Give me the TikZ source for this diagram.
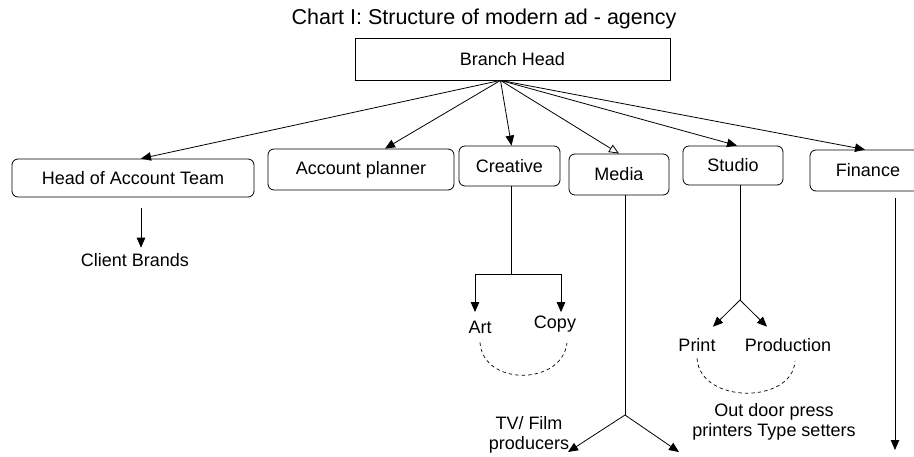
\documentclass[tikz,border=0pt]{standalone}
\usepackage{fontspec}
\setmainfont{Liberation Sans}
\usetikzlibrary{arrows.meta}
\newcommand\labfont{\fontsize{18}{20}\selectfont}
\newcommand\chartfont{\fontsize{21.5}{24}\selectfont}
\begin{document}
  \begin{tikzpicture}[x=1pt,y=-1pt,
      deptbox/.style={draw,rounded corners=6pt,line width=0.8pt,font=\labfont,inner sep=0pt},
      headbox/.style={draw,line width=0.8pt,font=\labfont,inner sep=0pt},
      lbl/.style={font=\labfont,inner sep=1pt,align=center},
      arr/.style={line width=0.8pt,-{Triangle[length=10pt,width=8.5pt]}},
      oarr/.style={line width=0.8pt,-{Triangle[open,length=10pt,width=8.5pt]}},
      link/.style={line width=0.8pt},
      ring/.style={line width=0.7pt,dash pattern=on 3.5pt off 3pt}]
    \useasboundingbox (0,0) rectangle (914,457);
    \clip (0,0) rectangle (914,457);
    \node[font=\chartfont,anchor=base] (T) at (484,25) {Chart I: Structure of modern ad - agency};
    \node[headbox,minimum width=315,minimum height=42] (BH) at (512.5,59) {Branch Head};
    \node[deptbox,minimum width=242,minimum height=38] (HA) at (133,178) {Head of Account Team};
    \node[deptbox,minimum width=186,minimum height=41] (AP) at (361,169.5) {Account planner};
    \node[deptbox,minimum width=101,minimum height=40] (CR) at (509.5,166) {Creative};
    \node[deptbox,minimum width=100,minimum height=41] (ME) at (619,174.5) {Media};
    \node[deptbox,minimum width=100,minimum height=39] (ST) at (733,165.5) {Studio};
    \node[deptbox,minimum width=116,minimum height=41] (FI) at (868,170.5) {Finance};
    \coordinate (B0) at ([xshift=-12]BH.south);
    \foreach \n/\dx in {HA/8,AP/24,CR/2,ST/4,FI/-3}{
      \draw[arr] (B0) -- ([xshift=\dx]\n.north);
    }
    \draw[oarr] (B0) -- (ME.north);
    \node[lbl] (CB) at (135,260.5) {Client Brands};
    \draw[arr] ([xshift=8,yshift=-11]HA.south) -- ([xshift=6,yshift=5]CB.north);
    \coordinate (C0) at (511,274);
    \node[lbl] (AR) at (480,327) {Art};
    \node[lbl] (CO) at (555,324.5) {Copy};
    \draw[link] (C0 |- CR.south) -- (C0);
    \draw[arr] (C0) -| ([xshift=-5,yshift=7.5]AR.north);
    \draw[arr] (C0) -| ([xshift=6,yshift=3]CO.north);
    \draw[ring] ([yshift=-8]AR.south) .. controls +(3,44) and +(-5,43) .. ([xshift=12,yshift=-9]CO.south);
    \coordinate (M0) at (625,415);
    \coordinate (M1) at (568,452);
    \coordinate (M2) at (679,452);
    \draw[link] (M0 |- ME.south) -- (M0);
    \foreach \p in {M1,M2}{
      \draw[arr] (M0) -- (\p);
    }
    \node[lbl] (TV) at (529,434.5) {TV/ Film\\producers};
    \coordinate (S0) at (740,300);
    \node[lbl] (PR) at (697,345.5) {Print};
    \node[lbl] (PD) at (788,345.5) {Production};
    \draw[link] (S0 |- ST.south) -- (S0);
    \draw[arr] (S0) -- ([xshift=16,yshift=11]PR.north);
    \draw[arr] (S0) -- ([xshift=-21,yshift=11]PD.north);
    \draw[ring] ([yshift=-5]PR.south) .. controls +(3,46) and +(-3,43) .. ([xshift=7,yshift=-8]PD.south);
    \node[lbl] (OD) at (774,421.5) {Out door press\\printers Type setters};
    \coordinate (F0) at (895,450);
    \draw[arr,shorten <=7pt] (F0 |- FI.south) -- (F0);
  \end{tikzpicture}
\end{document}
